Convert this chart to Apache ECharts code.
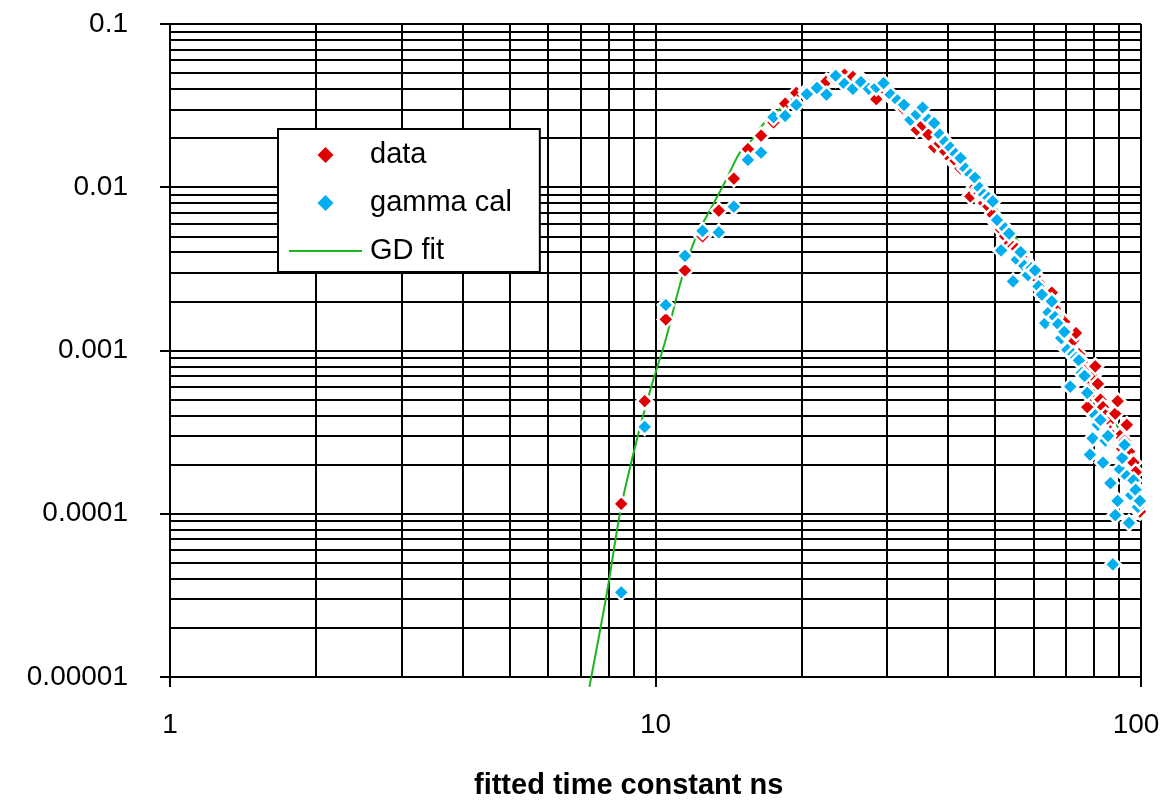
<!DOCTYPE html>
<html>
<head>
<meta charset="utf-8">
<script src="https://cdn.jsdelivr.net/npm/echarts@6/dist/echarts.min.js"></script>
<style>
  html, body { margin: 0; padding: 0; background: #ffffff; }
  #chart { width: 1161px; height: 800px; }
</style>
</head>
<body>
<div id="chart"></div>
<script>
// Fitted time constant (ns) of each histogram bin
const tauNs = [
  8.5, 9.5, 10.5, 11.5, 12.5, 13.5, 14.5, 15.5, 16.5, 17.5,
  18.5, 19.5, 20.5, 21.5, 22.5, 23.5, 24.5, 25.5, 26.5, 27.5,
  28.5, 29.5, 30.5, 31.5, 32.5, 33.5, 34.5, 35.5, 36.5, 37.5,
  38.5, 39.5, 40.5, 41.5, 42.5, 43.5, 44.5, 45.5, 46.5, 47.5,
  48.5, 49.5, 50.5, 51.5, 52.5, 53.5, 54.5, 55.5, 56.5, 57.5,
  58.5, 59.5, 60.5, 61.5, 62.5, 63.5, 64.5, 65.5, 66.5, 67.5,
  68.5, 69.5, 70.5, 71.5, 72.5, 73.5, 74.5, 75.5, 76.5, 77.5,
  78.5, 79.5, 80.5, 81.5, 82.5, 83.5, 84.5, 85.5, 86.5, 87.5,
  88.5, 89.5, 90.5, 91.5, 92.5, 93.5, 94.5, 95.5, 96.5, 97.5,
  98.5, 99.5
];

// Measured distribution ("data")
const dataVals = [
  1.15e-4, 4.9e-4, 1.55e-3, 3.1e-3, 5.0e-3, 7.2e-3, 1.13e-2, 1.71e-2, 2.07e-2, 2.5e-2,
  3.25e-2, 3.78e-2, 3.9e-2, 4.25e-2, 4.45e-2, 4.6e-2, 4.9e-2, 4.75e-2, 4.6e-2, 4.2e-2,
  3.47e-2, 4.0e-2, 3.6e-2, 3.4e-2, 3.0e-2, 2.7e-2, 2.25e-2, 2.4e-2, 2.1e-2, 1.76e-2,
  1.85e-2, 1.65e-2, 1.5e-2, 1.45e-2, 1.3e-2, 1.33e-2, 8.8e-3, 1.0e-2, 9.2e-3, 8.0e-3,
  7.6e-3, 6.8e-3, 6.0e-3, 5.5e-3, 5.0e-3, 4.5e-3, 4.3e-3, 4.2e-3, 4.0e-3, 3.6e-3,
  3.3e-3, 3.0e-3, 2.9e-3, 2.7e-3, 2.5e-3, 2.3e-3, 2.1e-3, 2.26e-3, 1.8e-3, 1.6e-3,
  1.47e-3, 1.5e-3, 1.3e-3, 1.1e-3, 1.15e-3, 1.28e-3, 9.5e-4, 8.5e-4, 7.5e-4, 4.5e-4,
  6.5e-4, 7.0e-4, 8.0e-4, 6.25e-4, 5.0e-4, 4.5e-4, 4.0e-4, 3.6e-4, 3.2e-4, 3.0e-4,
  4.1e-4, 4.9e-4, 3.0e-4, 2.5e-4, 2.8e-4, 3.5e-4, 2.4e-4, 2.06e-4, 2.06e-4, 1.8e-4,
  1.4e-4, 1.03e-4
];

// Gamma calibration distribution ("gamma cal")
const gammaCalVals = [
  3.3e-5, 3.4e-4, 1.9e-3, 3.8e-3, 5.4e-3, 5.3e-3, 7.6e-3, 1.47e-2, 1.63e-2, 2.69e-2,
  2.74e-2, 3.2e-2, 3.72e-2, 4.06e-2, 3.69e-2, 4.82e-2, 4.3e-2, 4.0e-2, 4.4e-2, 4.0e-2,
  4.1e-2, 4.35e-2, 3.69e-2, 3.4e-2, 3.2e-2, 2.59e-2, 2.8e-2, 3.08e-2, 2.6e-2, 2.47e-2,
  2.1e-2, 1.9e-2, 1.75e-2, 1.6e-2, 1.51e-2, 1.3e-2, 1.2e-2, 1.14e-2, 9.9e-3, 9.0e-3,
  8.6e-3, 8.2e-3, 6.3e-3, 4.1e-3, 5.6e-3, 5.2e-3, 2.65e-3, 3.6e-3, 4.0e-3, 3.3e-3,
  2.9e-3, 3.2e-3, 3.1e-3, 2.47e-3, 2.2e-3, 1.47e-3, 1.71e-3, 2.0e-3, 1.6e-3, 1.45e-3,
  1.19e-3, 1.3e-3, 1.01e-3, 6.0e-4, 9.5e-4, 9.0e-4, 8.7e-4, 7.3e-4, 7.0e-4, 5.5e-4,
  2.3e-4, 2.9e-4, 4.0e-4, 3.5e-4, 3.76e-4, 2.06e-4, 2.8e-4, 3.0e-4, 1.54e-4, 4.9e-5,
  9.8e-5, 1.2e-4, 1.87e-4, 2.2e-4, 2.64e-4, 1.7e-4, 8.8e-5, 1.3e-4, 1.6e-4, 1.4e-4,
  1.1e-4, 1.2e-4
];

// GD fit curve, sampled along tau
const fitTau = [
  7.31, 7.94, 8.5, 9.19, 9.8, 10.49, 11.3, 12.13, 13.0, 13.98,
  14.9, 15.74, 16.7, 18, 20, 22, 24, 26, 28, 30,
  33, 36, 40, 45, 50, 55, 60, 65, 70, 74,
  78, 84, 90, 95, 100
];
const fitVals = [
  8.7e-6, 3.26e-5, 1.11e-4, 2.97e-4, 6.0e-4, 1.16e-3, 2.7e-3, 5.0e-3, 7.4e-3, 1.11e-2,
  1.62e-2, 1.93e-2, 2.45e-2, 3.0e-2, 3.8e-2, 4.3e-2, 4.55e-2, 4.5e-2, 4.2e-2, 3.85e-2,
  3.2e-2, 2.5e-2, 1.8e-2, 1.18e-2, 7.6e-3, 5.0e-3, 3.3e-3, 2.2e-3, 1.5e-3, 1.07e-3,
  8.0e-4, 5.1e-4, 3.3e-4, 2.5e-4, 1.87e-4
];

// Axis tick labels
const xTickLabels = ['1', '10', '100'];
const yTickLabels = ['0.00001', '0.0001', '0.001', '0.01', '0.1'];

const FONT = '"Liberation Sans", Arial, Helvetica, sans-serif';
const RED = '#e00000';
const BLUE = '#00aeef';
const GREEN = '#1db51d';
const DIAMOND = 'path://M5,0L10,5L5,10L0,5Z';
const LINE_ICON = 'path://M0,0L73,0L73,2L0,2Z';

function pairs(xs, ys) {
  return xs.map((x, i) => [x, ys[i]]);
}
function findLabel(labels, v) {
  for (const s of labels) {
    const n = parseFloat(s);
    if (Math.abs(n - v) <= n * 1e-6) return s;
  }
  return '';
}

const gridLine = { show: true, lineStyle: { color: '#000', width: 2, type: 'solid' } };

const chart = echarts.init(document.getElementById('chart'), null, { renderer: 'canvas' });
chart.setOption({
  animation: false,
  backgroundColor: '#ffffff',
  title: {
    text: 'fitted time constant ns',
    left: 474,
    top: 771,
    padding: 0,
    textStyle: { fontFamily: FONT, fontSize: 29, fontWeight: 'bold', color: '#000' }
  },
  grid: {
    left: 170, right: 20, top: 24, bottom: 123,
    containLabel: false,
    outerBoundsMode: 'none'
  },
  legend: {
    orient: 'vertical',
    left: 278,
    top: 129,
    data: [
      { name: 'data', icon: DIAMOND },
      { name: 'gamma cal', icon: DIAMOND },
      { name: 'GD fit', icon: LINE_ICON }
    ],
    backgroundColor: '#ffffff',
    borderColor: '#000',
    borderWidth: 2,
    padding: [11, 28, 6, 11],
    itemWidth: 73,
    itemHeight: 16,
    itemGap: 18,
    itemStyle: { borderWidth: 0 },
    selectedMode: false,
    textStyle: { fontFamily: FONT, fontSize: 29, color: '#000', lineHeight: 30, padding: [0, 0, 0, 3] }
  },
  xAxis: {
    type: 'log',
    logBase: 10,
    min: 1,
    max: 100,
    axisLine: { show: true, onZero: false, lineStyle: { color: '#000', width: 2 } },
    axisTick: { show: true, inside: false, length: 10, lineStyle: { color: '#000', width: 2 } },
    axisLabel: {
      margin: 34,
      fontFamily: FONT, fontSize: 28, color: '#000',
      // the rightmost label is nudged left so it stays on the canvas
      formatter: function (v) {
        const s = findLabel(xTickLabels, v);
        return s === xTickLabels[xTickLabels.length - 1] ? '{edge|' + s + '}' : s;
      },
      rich: {
        edge: { fontFamily: FONT, fontSize: 28, color: '#000', padding: [0, 10, 0, 0] }
      }
    },
    splitLine: gridLine,
    minorTick: { show: false, splitNumber: 9 },
    minorSplitLine: { show: true, lineStyle: { color: '#000', width: 2 } }
  },
  yAxis: {
    type: 'log',
    logBase: 10,
    min: 0.00001,
    max: 0.1,
    axisLine: { show: true, onZero: false, lineStyle: { color: '#000', width: 2 } },
    axisTick: { show: true, inside: false, length: 10, lineStyle: { color: '#000', width: 2 } },
    axisLabel: {
      margin: 42,
      fontFamily: FONT, fontSize: 28, color: '#000',
      formatter: function (v) { return findLabel(yTickLabels, v); }
    },
    splitLine: gridLine,
    minorTick: { show: false, splitNumber: 9 },
    minorSplitLine: { show: true, lineStyle: { color: '#000', width: 2 } }
  },
  series: [
    {
      name: 'GD fit',
      type: 'line',
      data: pairs(fitTau, fitVals),
      symbol: 'none',
      smooth: 0.3,
      clip: false,
      lineStyle: { color: GREEN, width: 2 },
      itemStyle: { color: GREEN },
      z: 2
    },
    {
      name: 'data',
      type: 'scatter',
      data: pairs(tauNs, dataVals),
      symbol: 'diamond',
      symbolSize: 16,
      itemStyle: { color: RED, borderColor: '#ffffff', borderWidth: 2.5, opacity: 1 },
      z: 3
    },
    {
      name: 'gamma cal',
      type: 'scatter',
      data: pairs(tauNs, gammaCalVals),
      symbol: 'diamond',
      symbolSize: 16,
      itemStyle: { color: BLUE, borderColor: '#ffffff', borderWidth: 2.5, opacity: 1 },
      z: 4
    }
  ]
});
</script>
</body>
</html>
